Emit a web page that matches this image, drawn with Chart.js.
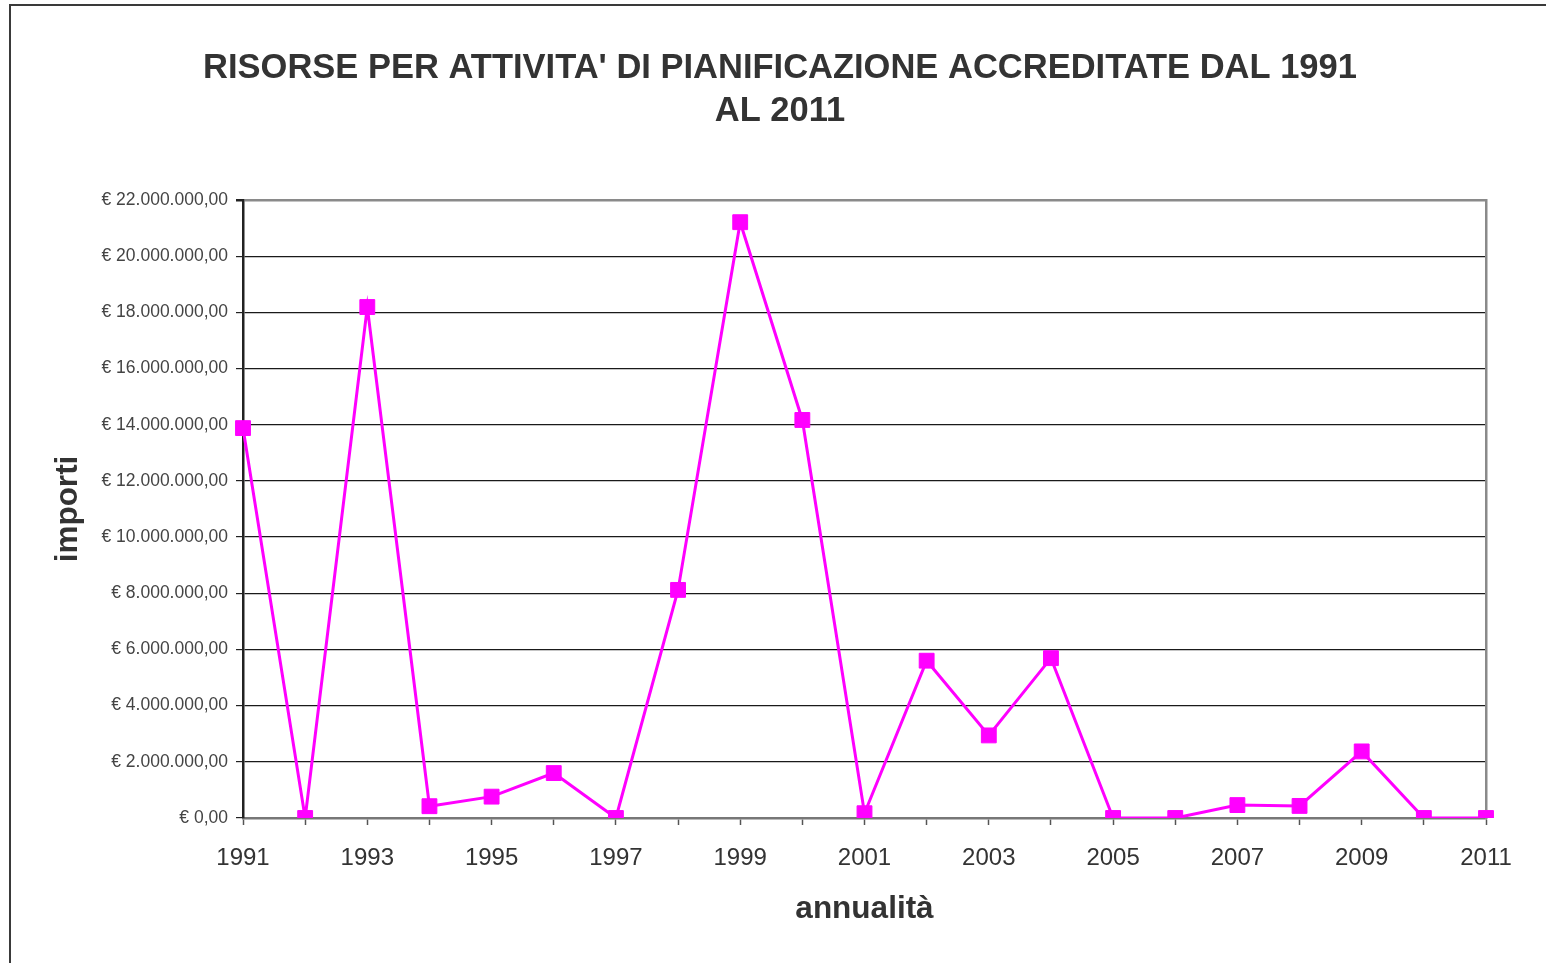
<!DOCTYPE html>
<html>
<head>
<meta charset="utf-8">
<script src="https://cdn.jsdelivr.net/npm/chart.js@4/dist/chart.umd.min.js"></script>
<style>
  html, body { margin: 0; padding: 0; background: #fff; }
  #wrap { position: relative; width: 1546px; height: 963px; overflow: hidden; }
  #frame { position: absolute; left: 9px; top: 4px; width: 1600px; height: 1000px;
           border-left: 2px solid #3a3a3a; border-top: 2px solid #3a3a3a; }
  canvas { position: absolute; left: 0; top: 0; }
</style>
</head>
<body>
<div id="wrap">
  <div id="frame"></div>
  <canvas id="c" width="1546" height="963"></canvas>
</div>
<script>
const years = ['1991','1992','1993','1994','1995','1996','1997','1998','1999','2000',
               '2001','2002','2003','2004','2005','2006','2007','2008','2009','2010','2011'];
const importi = [13880000, 0, 18190000, 420000, 760000, 1600000, 0, 8120000, 21210000, 14170000,
                 170000, 5600000, 2940000, 5690000, 0, 0, 460000, 430000, 2370000, 0, 0];
const titleLines = ["RISORSE PER ATTIVITA' DI PIANIFICAZIONE ACCREDITATE DAL 1991", "AL 2011"];
const xTitle = 'annualità';
const yTitle = 'importi';
const yMin = 0, yMax = 22000000, yStep = 2000000;

function euro(v) {
  const s = Math.round(v).toString().replace(/\B(?=(\d{3})+(?!\d))/g, '.');
  return '€ ' + s + ',00';
}

const FONT = "'Liberation Sans', Arial, sans-serif";

new Chart(document.getElementById('c'), {
  type: 'line',
  data: {
    labels: years,
    datasets: [{
      data: importi,
      borderColor: '#ff00ff',
      backgroundColor: '#ff00ff',
      borderWidth: 3,
      pointStyle: 'rect',
      pointRadius: 10.5,
      pointBorderWidth: 1,
      pointBorderColor: '#ff00ff',
      pointBackgroundColor: '#ff00ff',
      tension: 0,
      fill: false
    }]
  },
  options: {
    responsive: false,
    animation: false,
    layout: { padding: { left: 14, right: 0, top: 0, bottom: 0 } },
    plugins: {
      legend: { display: false },
      tooltip: { enabled: false },
      title: {
        display: true,
        text: titleLines,
        color: '#333333',
        font: { family: FONT, size: 34.5, weight: 'bold', lineHeight: '43px' },
        padding: { top: 46.5, bottom: 67.5 }
      }
    },
    scales: {
      x: {
        type: 'category',
        offset: false,
        grid: { drawOnChartArea: false, drawTicks: true, tickLength: 7, tickColor: '#555', tickWidth: 1.5 },
        border: { display: true, color: '#777', width: 2.5 },
        ticks: {
          autoSkip: false, maxRotation: 0, padding: 19,
          color: '#333',
          font: { family: FONT, size: 24 },
          callback: function(v, i) { return i % 2 === 0 ? this.getLabelForValue(v) : ''; }
        },
        title: {
          display: true, text: xTitle, color: '#333',
          font: { family: FONT, size: 31.5, weight: 'bold' },
          padding: { top: 0, bottom: 35 }
        },
        afterFit: (s) => { s.height = 963 - 818; }
      },
      y: {
        min: yMin, max: yMax,
        ticks: {
          stepSize: yStep, padding: 8, color: '#444',
          font: { family: FONT, size: 17.5 },
          callback: (v) => euro(v)
        },
        grid: {
          drawTicks: true, tickLength: 7, tickColor: '#222',
          color: (ctx) => ctx.tick && ctx.tick.value === yMax ? '#8a8a8a' : '#1a1a1a',
          lineWidth: (ctx) => ctx.tick && ctx.tick.value === yMax ? 2.5 : 1.2
        },
        border: { display: true, color: '#222', width: 2.5 },
        title: {
          display: true, text: yTitle, color: '#333',
          font: { family: FONT, size: 31.5, weight: 'bold' },
          padding: { top: 35, bottom: 0 }
        },
        afterFit: (s) => { s.width = 243 - 14; }
      },
      yr: {
        type: 'linear', position: 'right', display: true,
        ticks: { display: false },
        grid: { display: false, drawTicks: false },
        border: { display: true, color: '#8a8a8a', width: 2.5 },
        afterFit: (s) => { s.width = 1546 - 1486; }
      }
    }
  }
});
</script>
</body>
</html>
